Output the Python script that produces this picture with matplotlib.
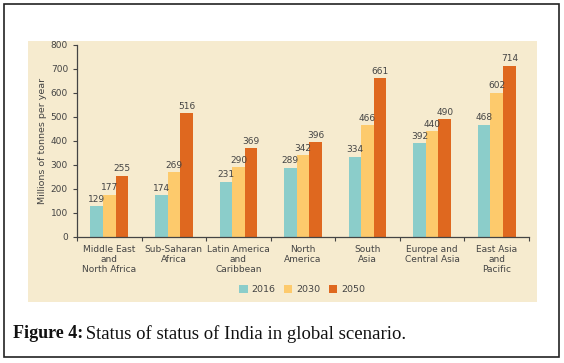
import matplotlib.pyplot as plt
from matplotlib.patches import Rectangle
import numpy as np

regions = ['Middle East\nand\nNorth Africa', 'Sub-Saharan\nAfrica', 'Latin America\nand\nCaribbean',
           'North\nAmerica', 'South\nAsia', 'Europe and\nCentral Asia', 'East Asia\nand\nPacific']
years = ['2016', '2030', '2050']
v2016 = [129, 174, 231, 289, 334, 392, 468]
v2030 = [177, 269, 290, 342, 466, 440, 602]
v2050 = [255, 516, 369, 396, 661, 490, 714]
colors = ['#8bcdca', '#fdca6c', '#df681f']

fig = plt.figure(figsize=(5.64, 3.63), dpi=100)
fig.patch.set_facecolor('white')

# outer frame + beige panel
fig.patches.append(Rectangle((4/564, 6/363), 555/564, 353/363, transform=fig.transFigure,
                             fill=False, edgecolor='#222222', linewidth=1.2, zorder=-10))
fig.patches.append(Rectangle((28/564, 61/363), 509/564, 261/363, transform=fig.transFigure,
                             facecolor='#f6ebcf', edgecolor='none', zorder=-10))

ax = fig.add_axes([77/564, 126/363, 452/564, 192/363])
ax.set_facecolor('none')

x = np.arange(len(regions))
w = 0.195
txt = '#444444'
for i, (vals, c) in enumerate(zip([v2016, v2030, v2050], colors)):
    xs = x + (i - 1) * w
    ax.bar(xs, vals, w, color=c, label=years[i])
    for xi, v in zip(xs, vals):
        ax.text(xi, v + 10, str(v), ha='center', va='bottom', fontsize=6.5, color=txt)

ax.set_xlim(-0.5, 6.5)
ax.set_ylim(0, 800)
ax.set_yticks(range(0, 801, 100))
ax.tick_params(axis='y', labelsize=6.5, colors=txt, length=3, width=0.8)
ax.set_xticks(np.arange(-0.5, 7, 1))
ax.set_xticklabels([])
ax.tick_params(axis='x', length=3, width=0.8, colors='#444444')
for xi, r in zip(x, regions):
    ax.text(xi, -32, r, ha='center', va='top', fontsize=6.5, color=txt, linespacing=1.2)
for s in ['top', 'right']:
    ax.spines[s].set_visible(False)
for s in ['left', 'bottom']:
    ax.spines[s].set_color('#444444')
    ax.spines[s].set_linewidth(0.9)
ax.set_ylabel('Millions of tonnes per year', fontsize=6.8, color=txt, labelpad=3)

fig.legend(loc='center', bbox_to_anchor=(302/564, (363-289.5)/363), ncol=3, frameon=False,
           fontsize=6.8, handlelength=0.9, handleheight=0.9, handletextpad=0.4,
           columnspacing=0.9, labelcolor=txt)

fig.text(13/564, (363-334)/363, 'Figure 4:', fontsize=13, fontweight='bold',
         family='Liberation Serif', va='center', color='#111111')
fig.text(81/564, (363-334)/363, ' Status of status of India in global scenario.', fontsize=13.5,
         family='Liberation Serif', va='center', color='#111111')

fig.savefig('out.png', dpi=100)
